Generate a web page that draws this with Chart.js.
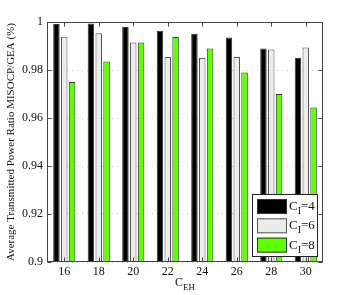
<!DOCTYPE html>
<html>
<head>
<meta charset="utf-8">
<script src="https://cdn.jsdelivr.net/npm/chart.js@4.4.0/dist/chart.umd.min.js"></script>
<style>
  html, body { margin: 0; padding: 0; background: #fff; }
  canvas { display: block; }
</style>
</head>
<body>
<canvas id="chart" width="357" height="295"></canvas>
<script>
const categories = ['16', '18', '20', '22', '24', '26', '28', '30'];
const ci4 = [0.9992, 0.9994, 0.9979, 0.9964, 0.9951, 0.9935, 0.9890, 0.9851];
const ci6 = [0.9939, 0.9953, 0.9915, 0.9854, 0.9850, 0.9854, 0.9885, 0.9894];
const ci8 = [0.9750, 0.9835, 0.9915, 0.9938, 0.9890, 0.9790, 0.9700, 0.9644];
const seriesNames = ['4', '6', '8'];
const yMin = 0.9, yMax = 1, yStep = 0.02;

const serif = '"Liberation Serif", "DejaVu Serif", serif';

// draw text with a subscript part, e.g. C + I + =4
function subText(ctx, x, y, base, sub, rest, size) {
  ctx.font = size + 'px ' + serif;
  ctx.fillText(base, x, y);
  x += ctx.measureText(base).width;
  ctx.font = Math.round(size * 0.75) + 'px ' + serif;
  ctx.fillText(sub, x, y + size * 0.3);
  x += ctx.measureText(sub).width;
  if (rest) {
    ctx.font = size + 'px ' + serif;
    ctx.fillText(rest, x, y);
  }
}

const frame = {
  id: 'frame',
  afterDraw(chart) {
    const ctx = chart.ctx;
    const a = chart.chartArea;
    const xs = chart.scales.x, ys = chart.scales.y;
    ctx.save();
    ctx.strokeStyle = '#444';
    ctx.lineWidth = 1;
    const L = Math.round(a.left) + 0.5, R = Math.round(a.right) - 0.5;
    const T = Math.round(a.top) + 0.5, B = Math.round(a.bottom) - 0.5;
    ctx.strokeRect(L, T, R - L, B - T);
    // inward ticks
    ctx.beginPath();
    ys.ticks.forEach(t => {
      const y = Math.round(ys.getPixelForValue(t.value)) + 0.5;
      ctx.moveTo(L, y); ctx.lineTo(L + 4, y);
      ctx.moveTo(R, y); ctx.lineTo(R - 4, y);
    });
    categories.forEach((c, i) => {
      const x = Math.round(xs.getPixelForValue(i)) + 0.5;
      ctx.moveTo(x, T); ctx.lineTo(x, T + 4);
      ctx.moveTo(x, B); ctx.lineTo(x, B - 4);
    });
    ctx.stroke();

    // axis titles
    ctx.fillStyle = '#111';
    ctx.textBaseline = 'alphabetic';
    ctx.font = '12px ' + serif;
    const wC = ctx.measureText('C').width;
    ctx.font = '9px ' + serif;
    const wEH = ctx.measureText('EH').width;
    subText(ctx, (a.left + a.right) / 2 - (wC + wEH) / 2, 286, 'C', 'EH', '', 12);

    ctx.save();
    ctx.translate(14, (a.top + a.bottom) / 2);
    ctx.rotate(-Math.PI / 2);
    ctx.textAlign = 'center';
    ctx.font = '11px ' + serif;
    ctx.fillText('Average Transmitted Power Ratio MISOCP/GEA (%)', 0, 0);
    ctx.restore();

    // legend
    const lx = 252, ly = 194, lw = 66, lh = 63;
    ctx.fillStyle = '#fff';
    ctx.fillRect(lx, ly, lw, lh);
    ctx.strokeStyle = '#222';
    ctx.strokeRect(lx + 0.5, ly + 0.5, lw - 1, lh - 1);
    chart.data.datasets.forEach((ds, i) => {
      const sy = 199 + i * 19.3;
      ctx.fillStyle = ds.backgroundColor;
      ctx.fillRect(257, sy, 30, 15);
      ctx.strokeStyle = ds.borderColor;
      ctx.strokeRect(257.5, sy + 0.5, 29, 14);
      ctx.fillStyle = '#111';
      subText(ctx, 289, sy + 11, 'C', 'I', '=' + seriesNames[i], 13);
    });
    ctx.restore();
  }
};

new Chart(document.getElementById('chart'), {
  type: 'bar',
  data: {
    labels: categories,
    datasets: [
      { label: 'C_I=4', data: ci4, backgroundColor: '#000000', borderColor: '#333333', borderWidth: 1 },
      { label: 'C_I=6', data: ci6, backgroundColor: '#ececec', borderColor: '#555555', borderWidth: 1 },
      { label: 'C_I=8', data: ci8, backgroundColor: '#5eff00', borderColor: '#333333', borderWidth: 1 }
    ]
  },
  options: {
    responsive: false,
    animation: false,
    maintainAspectRatio: false,
    devicePixelRatio: 1,
    categoryPercentage: 0.68,
    barPercentage: 0.83,
    layout: { padding: { left: 0, top: 22, right: 34, bottom: 0 } },
    plugins: {
      legend: { display: false },
      tooltip: { enabled: false }
    },
    scales: {
      x: {
        offset: true,
        grid: { display: false, drawTicks: false },
        border: { display: false },
        ticks: {
          color: '#111',
          padding: 3,
          font: { family: serif, size: 12 }
        },
        afterFit: s => { s.height = 33; }
      },
      y: {
        min: yMin,
        max: yMax,
        border: { display: false, dash: [1, 4] },
        grid: {
          drawTicks: false,
          color: '#c4c4c4',
          lineWidth: 1
        },
        ticks: {
          stepSize: yStep,
          color: '#111',
          padding: 4,
          font: { family: serif, size: 12 },
          callback: v => String(Number(v.toFixed(2)))
        },
        afterFit: s => { s.width = 47; }
      }
    }
  },
  plugins: [frame]
});
</script>
</body>
</html>
